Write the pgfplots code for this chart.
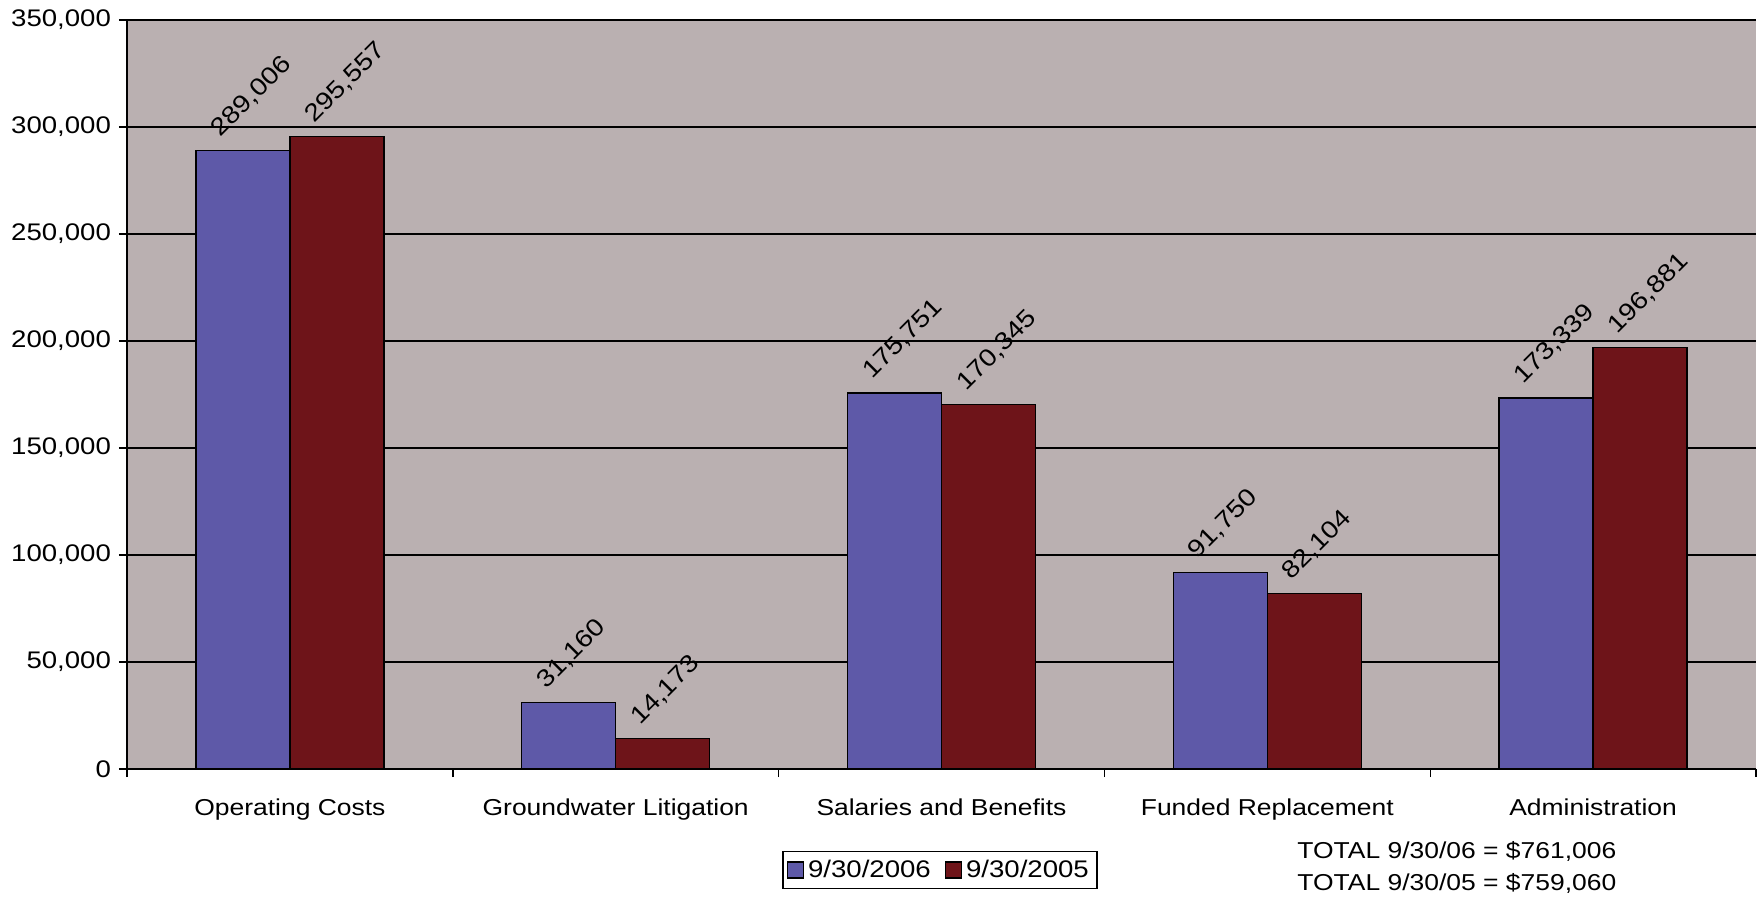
\documentclass[border=0pt]{standalone}
\usepackage{fontspec}
\setmainfont{Liberation Sans}[FakeStretch=1.15]
\usepackage{pgfplots}
\pgfplotsset{compat=1.18}
\definecolor{bgc}{RGB}{186,176,177}
\definecolor{barblue}{RGB}{94,89,168}
\definecolor{barred}{RGB}{110,20,25}
\begin{document}
\fontsize{11.5}{14}\selectfont
\begin{tikzpicture}
\begin{axis}[name=ax, scale only axis, width=814.5pt, height=374.5pt,
  ybar=0pt, bar width=47pt,
  xmin=-0.5, xmax=4.5, ymin=0, ymax=350000,
  axis lines=left, axis line style={-, line width=0.7pt},
  axis background/.style={fill=bgc},
  tick align=outside, major tick length=4pt,
  tick style={black, line width=0.7pt},
  xtick={-0.5,0.5,1.5,2.5,3.5,4.5}, xticklabels={},
  extra x ticks={0,1,2,3,4},
  extra x tick labels={Operating Costs, Groundwater Litigation, Salaries and Benefits, Funded Replacement, Administration},
  extra x tick style={major tick length=0pt, grid=none, tick label style={yshift=-10.8pt}},
  ymajorgrids, major grid style={black, line width=0.6pt},
  ytick={0,50000,...,350000}, scaled y ticks=false,
  y tick label style={font=\fontsize{12}{14}\selectfont, /pgf/number format/fixed, /pgf/number format/1000 sep={,}, /pgf/number format/assume math mode=true},
  nodes near coords={\pgfmathprintnumber[fixed,precision=0,1000 sep={,},assume math mode=true]{\pgfplotspointmeta}},
  every node near coord/.append style={font=\fontsize{12.2}{14}\selectfont, anchor=base west, inner sep=0pt, shift={(-11.5pt,6.3pt)}, rotate=45},
  legend style={at={(axis description cs:0.499,-0.1349)}, anchor=center, legend columns=2, draw=black, line width=0.7pt, fill=white, inner sep=2pt,
    font=\fontsize{12}{14}\selectfont,
    /tikz/every even column/.append style={column sep=5pt}},
  legend image code/.code={\draw[#1, line width=0.6pt] (0pt,-4pt) rectangle (8pt,4pt);},
]
\addplot[fill=barblue, draw=black, line width=0.7pt] coordinates {(0,289006) (1,31160) (2,175751) (3,91750) (4,173339)};
\addplot[fill=barred, draw=black, line width=0.7pt] coordinates {(0,295557) (1,14173) (2,170345) (3,82104) (4,196881)};
\legend{9/30/2006, 9/30/2005}
\end{axis}
\node[anchor=west, align=left, inner sep=0pt, font=\fontsize{11.5}{16}\selectfont] at ([xshift=585pt, yshift=-49pt]ax.south west) {TOTAL 9/30/06 = \$761,006\\TOTAL 9/30/05 = \$759,060};
\pgfresetboundingbox
\path[use as bounding box] ([xshift=-63.5pt,yshift=-63.5pt]ax.south west) rectangle ++(880.5pt,448pt);
\end{tikzpicture}
\end{document}
